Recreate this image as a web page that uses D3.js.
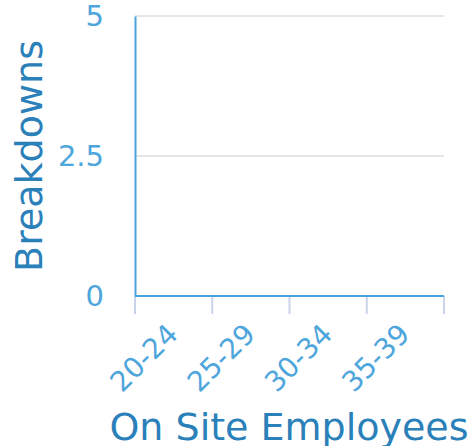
<!DOCTYPE html>
<html>
<head>
<meta charset="utf-8">
<script src="https://cdn.jsdelivr.net/npm/d3@7"></script>
<style>
  body { margin: 0; background: #fff; }
  text { font-family: "DejaVu Sans", sans-serif; }
</style>
</head>
<body>
<div id="viz"></div>
<script>
// chart data
var ageGroups = ['20-24', '25-29', '30-34', '35-39'];
var breakdowns = [0, 0, 0, 0];
var yTicks = [0, 2.5, 5];

var width = 472, height = 446;
var margin = {top: 16, right: 28, bottom: 150, left: 135};

var svg = d3.select('#viz').append('svg')
  .attr('width', width)
  .attr('height', height);

var x = d3.scaleBand()
  .domain(ageGroups)
  .range([margin.left, width - margin.right]);

var y = d3.scaleLinear()
  .domain([0, 5])
  .range([height - margin.bottom, margin.top]);

// horizontal grid lines
svg.append('g')
  .selectAll('line')
  .data(yTicks.filter(function(d) { return d > 0; }))
  .enter()
  .append('line')
  .attr('x1', margin.left)
  .attr('x2', width - margin.right)
  .attr('y1', function(d) { return y(d); })
  .attr('y2', function(d) { return y(d); })
  .style('stroke', '#e6e6e6')
  .style('stroke-width', 2);

// bars (all zero here)
svg.append('g')
  .selectAll('rect')
  .data(breakdowns)
  .enter()
  .append('rect')
  .attr('x', function(d, i) { return x(ageGroups[i]) + x.bandwidth() * 0.1; })
  .attr('width', x.bandwidth() * 0.8)
  .attr('y', function(d) { return y(d); })
  .attr('height', function(d) { return y(0) - y(d); })
  .style('fill', '#4aa3df');

// y axis
var yAxis = svg.append('g')
  .attr('transform', 'translate(' + margin.left + ',0)')
  .call(d3.axisLeft(y).tickValues(yTicks).tickSize(0).tickPadding(31)
    .tickFormat(function(d) { return d; }));
yAxis.select('.domain').style('stroke', '#4aa3df').style('stroke-width', 2);
yAxis.selectAll('text')
  .style('font-size', '29px')
  .style('fill', '#4ea6dc');

// x axis: ticks on band edges, labels in band centres
var xAxis = svg.append('g')
  .attr('transform', 'translate(0,' + y(0) + ')');

xAxis.selectAll('line.edge')
  .data(ageGroups.concat(['end']))
  .enter()
  .append('line')
  .attr('class', 'edge')
  .attr('x1', function(d, i) { return margin.left + i * x.bandwidth(); })
  .attr('x2', function(d, i) { return margin.left + i * x.bandwidth(); })
  .attr('y1', 0)
  .attr('y2', 18)
  .style('stroke', '#c8d4ea')
  .style('stroke-width', 2);

xAxis.append('line')
  .attr('x1', margin.left)
  .attr('x2', width - margin.right)
  .style('stroke', '#4aa3df')
  .style('stroke-width', 2);

xAxis.selectAll('text')
  .data(ageGroups)
  .enter()
  .append('text')
  .attr('transform', function(d) {
    return 'translate(' + (x(d) + x.bandwidth() / 2 - 8) + ',26) rotate(-45)';
  })
  .attr('text-anchor', 'end')
  .attr('dy', '0.7em')
  .style('font-size', '28px')
  .style('fill', '#4ea6dc')
  .text(function(d) { return d; });

// axis titles (bottom one runs off the edge, same as the original)
svg.append('text')
  .attr('x', 289)
  .attr('y', 440)
  .attr('text-anchor', 'middle')
  .style('font-size', '38px')
  .style('fill', '#2a80b9')
  .text('On Site Employees');

svg.append('text')
  .attr('transform', 'translate(42,' + (margin.top + (y(0) - margin.top) / 2) + ') rotate(-90)')
  .attr('text-anchor', 'middle')
  .style('font-size', '38px')
  .style('fill', '#2a80b9')
  .text('Breakdowns');
</script>
</body>
</html>
